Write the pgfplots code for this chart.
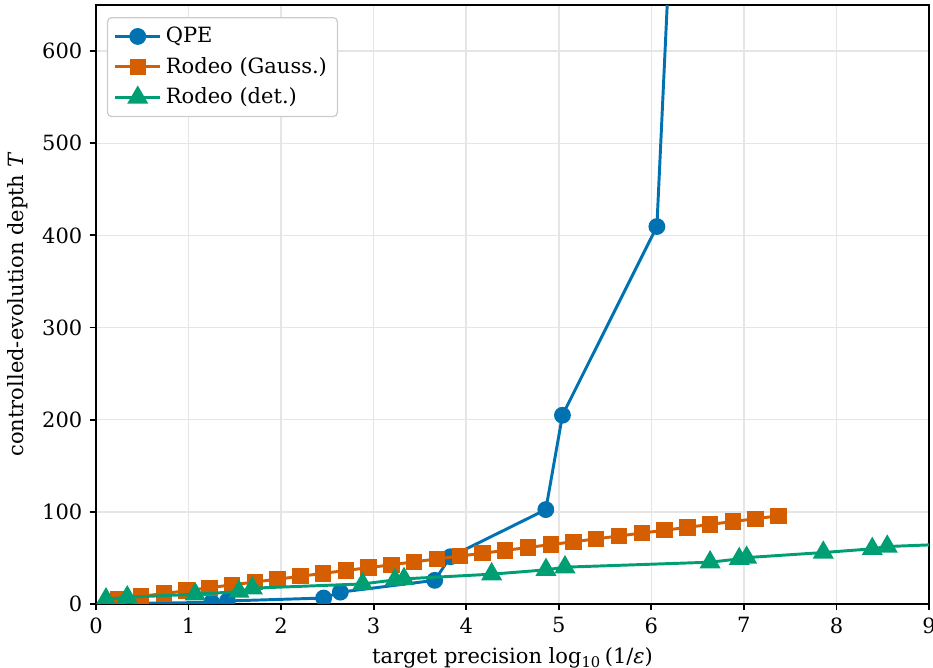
\documentclass[border=0pt]{standalone}
\usepackage{fontspec}
\setmainfont{DejaVu Serif}
\usepackage{pgfplots}
\pgfplotsset{compat=1.18}
\definecolor{cblue}{HTML}{0072B2}
\definecolor{corange}{HTML}{D55E00}
\definecolor{cgreen}{HTML}{009E73}
\begin{document}
\begin{tikzpicture}
\useasboundingbox (-45.7pt,-30.5pt) rectangle (398.6pt,287.6pt);
\begin{axis}[
  at={(0,0)}, anchor=south west,
  width=396.7pt, height=285.2pt, scale only axis,
  xmin=0, xmax=9, ymin=0, ymax=650,
  xtick={0,1,...,9}, ytick={0,100,...,600},
  tick align=outside, major tick length=3pt,
  tick pos=left,
  clip marker paths=true,
  grid=major, major grid style={line width=0.7pt, color=black!10},
  axis line style={line width=0.9pt},
  every tick/.style={black, line width=0.9pt},
  /pgf/number format/assume math mode=true,
  tick label style={font=\fontsize{10}{12}\selectfont},
  label style={font=\fontsize{10}{12}\selectfont},
  xlabel={target precision log\textsubscript{10}\,(1/\textit{ε})},
  ylabel={controlled-evolution depth \textit{T}},
  legend cell align=left,
  legend style={at={(0.0131,0.98)}, anchor=north west, draw=black!20, line width=0.6pt,
    rounded corners=2pt, fill=white, inner xsep=3pt, inner ysep=2.5pt, row sep=1.5pt,
    font=\fontsize{10}{12}\selectfont},
  legend image code/.code={\draw[sharp corners, mark repeat=2, mark phase=2, #1] plot coordinates {(0pt,0pt) (10.7pt,0pt) (21.4pt,0pt)};},
]
\addplot[cblue, line width=1.4pt, no marks, forget plot] coordinates {
(0.24,0.4) (0.47,0.8) (1.25,1.6)
};
\addplot[cblue, line width=1.4pt, mark=*, mark size=3.3pt] coordinates {
(1.25,1.6) (1.42,3.2) (2.46,6.4) (2.64,12.8) (3.66,25.6) (3.83,51.2)
(4.86,102.4) (5.04,204.8) (6.06,409.6) (6.25,819.2)
};
\addlegendentry{QPE}
\addplot[corange, line width=1.4pt, mark=square*, mark size=3.2pt] coordinates {
(0.241,5.1) (0.487,8.2) (0.733,11.3) (0.979,14.4) (1.225,17.6) (1.471,20.7)
(1.716,23.8) (1.962,26.9) (2.208,30.0) (2.454,33.2) (2.700,36.3) (2.946,39.4)
(3.192,42.5) (3.438,45.7) (3.684,48.8) (3.930,51.9) (4.175,55.0) (4.421,58.1)
(4.667,61.3) (4.913,64.4) (5.159,67.5) (5.405,70.6) (5.651,73.8) (5.897,76.9)
(6.143,80.0) (6.389,83.1) (6.634,86.3) (6.880,89.4) (7.126,92.5) (7.372,95.6)
};
\addlegendentry{Rodeo (Gauss.)}
\addplot[cgreen, line width=1.4pt, mark=triangle*, mark size=4.4pt] coordinates {
(0.108,5.1) (0.338,7.3) (1.073,10.5) (1.545,13.4) (1.689,17.1) (2.881,21.7)
(3.230,26.1) (3.328,27.2) (4.275,32.3) (4.862,37.0) (5.067,39.9) (6.635,45.3)
(6.950,48.9) (7.030,50.3) (7.858,55.8) (8.387,59.8) (8.549,62.3) (10.0,68.0)
};
\addlegendentry{Rodeo (det.)}
\end{axis}
\end{tikzpicture}
\end{document}
